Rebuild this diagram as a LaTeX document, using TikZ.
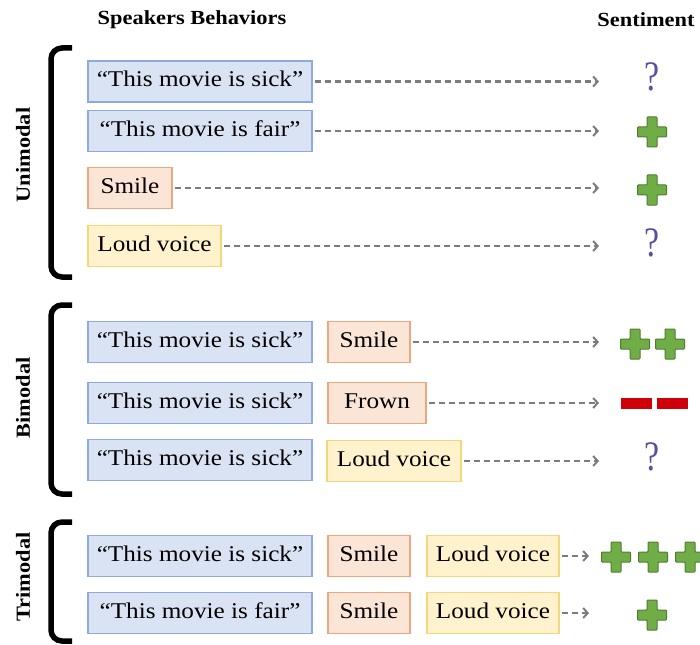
\documentclass[tikz,border=0pt]{standalone}
\usepackage{fontspec}
\setmainfont{Liberation Serif}[FakeStretch=1.12]
\usetikzlibrary{arrows.meta}

\definecolor{bluefill}{HTML}{DAE3F3}
\definecolor{blueline}{HTML}{8FAADC}
\definecolor{orfill}{HTML}{FBE5D6}
\definecolor{orline}{HTML}{EDA77E}
\definecolor{yefill}{HTML}{FFF2CC}
\definecolor{yeline}{HTML}{F5D77A}
\definecolor{plusfill}{HTML}{70AD47}
\definecolor{plusline}{HTML}{4E7D32}
\definecolor{minusred}{HTML}{D0000A}
\definecolor{qcol}{HTML}{5B4EA0}
\definecolor{arrowgray}{HTML}{7C7C7C}

\tikzset{
  box/.style={draw, line width=1.3pt, inner sep=0pt, minimum height=41pt,
    font=\fontsize{22.5}{25}\selectfont, text height=15.5pt, text depth=4.5pt},
  txtbox/.style={box, fill=bluefill, draw=blueline, minimum width=224pt},
  facebox/.style={box, fill=orfill, draw=orline},
  voicebox/.style={box, fill=yefill, draw=yeline},
  flow/.style={draw=arrowgray, line width=2.2pt, dash pattern=on 6.5pt off 3.5pt,
    -{Straight Barb[length=4.5pt,width=10pt,line width=2pt]}},
  head/.style={font=\fontsize{20}{22}\selectfont\bfseries},
  grouplabel/.style={head, rotate=90},
  qmark/.style={text=qcol, font=\fontsize{42}{44}\selectfont, xscale=0.72, inner sep=0pt},
  bracket/.style={line width=5.5pt, rounded corners=11pt},
  pics/plus/.style={code={
    \draw[draw=plusline, fill=plusfill, line width=1pt, rounded corners=0.8pt]
      (-5,-15) -- (5,-15) -- (5,-5) -- (14.5,-5) -- (14.5,5) -- (5,5) -- (5,15)
      -- (-5,15) -- (-5,5) -- (-14.5,5) -- (-14.5,-5) -- (-5,-5) -- cycle;}},
  pics/minus/.style={code={
    \fill[minusred] (-15.5,-5.5) rectangle (15.5,5.5);}}
}

\begin{document}
\begin{tikzpicture}[x=1pt, y=-1pt]
\useasboundingbox (0,0) rectangle (700,644);

% column headings
\node[head] (hbeh) at (192,20) {Speakers Behaviors};
\node[head] (hsent) at (646,20) {Sentiment};

% ---- unimodal ----
\draw[bracket] (72,48) -- (51,48) -- (51,277) -- (72,277);
\node[grouplabel] (lu) at (23,155) {Unimodal};

\node[txtbox] (u1) at (200,81.5) {“This movie is sick”};
\node[txtbox] (u2) at (200,131) {“This movie is fair”};
\node[facebox, minimum width=84pt] (u3) at (130,188) {Smile};
\node[voicebox, minimum width=133pt] (u4) at (154.5,246) {Loud voice};

\node[qmark] (s1) at (652,77) {?};
\pic at (652,132) {plus};
\pic at (652,190) {plus};
\node[qmark] (s4) at (652,243) {?};

\coordinate (e1) at (599,81.5);
\coordinate (e2) at (599,131);
\coordinate (e3) at (599,188);
\coordinate (e4) at (599,246);
\draw[flow] (u1.east) ++(2,0) -- (e1);
\draw[flow] (u2.east) ++(2,0) -- (e2);
\draw[flow] (u3.east) ++(2,0) -- (e3);
\draw[flow] (u4.east) ++(2,0) -- (e4);

% ---- bimodal ----
\draw[bracket] (72,305) -- (51,305) -- (51,494) -- (72,494);
\node[grouplabel] (lb) at (23,398) {Bimodal};

\node[txtbox] (b1t) at (200,342) {“This movie is sick”};
\node[facebox, minimum width=82pt] (b1f) at (369,342) {Smile};
\node[txtbox] (b2t) at (200,403) {“This movie is sick”};
\node[facebox, minimum width=98pt] (b2f) at (377,403) {Frown};
\node[txtbox] (b3t) at (200,460) {“This movie is sick”};
\node[voicebox, minimum width=134pt] (b3v) at (394,461) {Loud voice};

\pic at (635,344) {plus};
\pic at (670,344) {plus};
\pic at (636.5,403) {minus};
\pic at (672,403) {minus};
\node[qmark] (s7) at (652,457) {?};

\coordinate (e5) at (599,342);
\coordinate (e6) at (599,403);
\coordinate (e7) at (599,461);
\draw[flow] (b1f.east) ++(2,0) -- (e5);
\draw[flow] (b2f.east) ++(2,0) -- (e6);
\draw[flow] (b3v.east) ++(2,0) -- (e7);

% ---- trimodal ----
\draw[bracket] (72,522) -- (51,522) -- (51,641) -- (72,641);
\node[grouplabel] (lt) at (23,577) {Trimodal};

\node[txtbox] (t1t) at (200,556) {“This movie is sick”};
\node[facebox, minimum width=82pt] (t1f) at (369,556) {Smile};
\node[voicebox, minimum width=132pt] (t1v) at (493,556) {Loud voice};
\node[txtbox] (t2t) at (200,613) {“This movie is fair”};
\node[facebox, minimum width=82pt] (t2f) at (369,613) {Smile};
\node[voicebox, minimum width=132pt] (t2v) at (493,613) {Loud voice};

\pic at (616,557) {plus};
\pic at (653,557) {plus};
\pic at (690,557) {plus};
\pic at (652,615) {plus};

\coordinate (e8) at (589,556);
\coordinate (e9) at (589,613);
\draw[flow] (t1v.east) ++(2,0) -- (e8);
\draw[flow] (t2v.east) ++(2,0) -- (e9);
\end{tikzpicture}
\end{document}
